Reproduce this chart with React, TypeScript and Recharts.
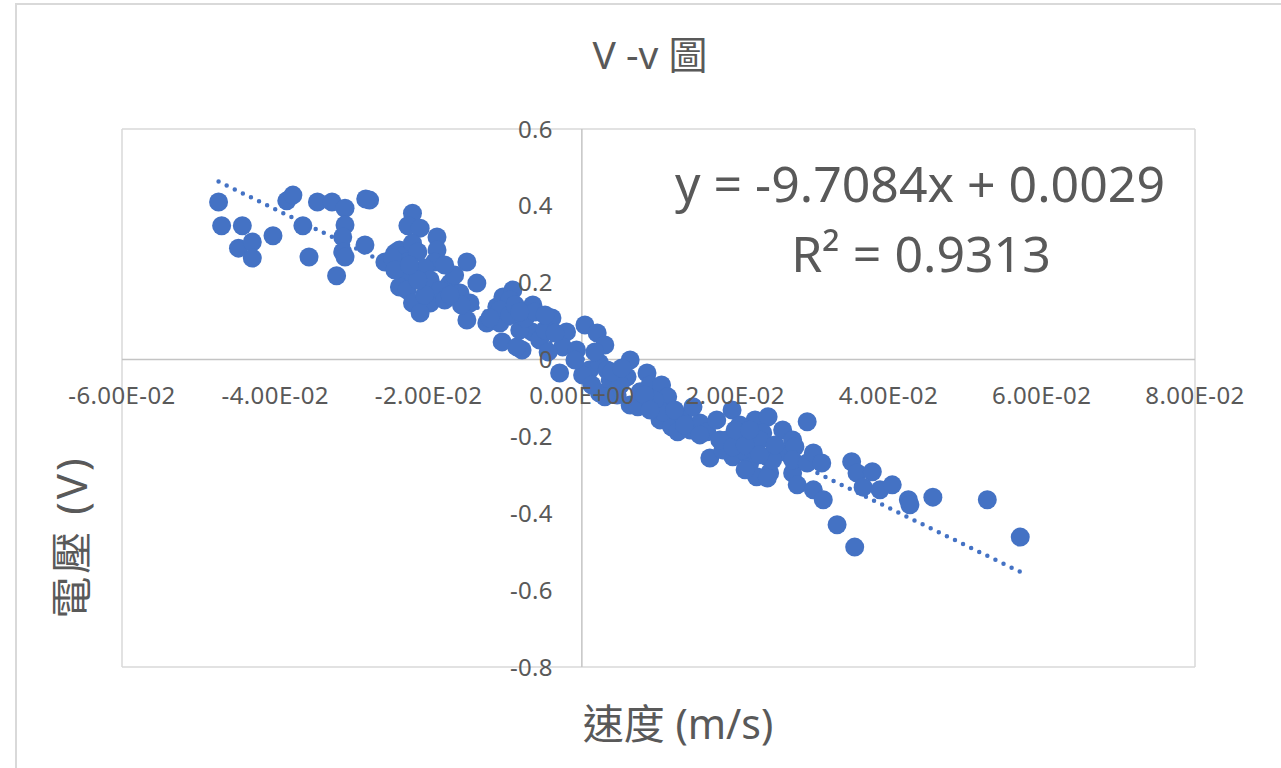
import React from 'react';
import { ScatterChart, Scatter, XAxis, YAxis, CartesianGrid, ReferenceLine } from 'recharts';

// 速度 (m/s)
const velocity = [
  -0.0474, -0.0470, -0.0443, -0.0448, -0.0430, -0.0430, -0.0403, -0.0385, -0.0377, -0.0364,
  -0.0356, -0.0345, -0.0326, -0.0309, -0.0309, -0.0312, -0.0312, -0.0309, -0.0320, -0.0283,
  -0.0277, -0.0282,
  -0.0257, -0.0244, -0.0238, -0.0232, -0.0228, -0.0221, -0.0227, -0.0211, -0.0189, -0.0221,
  -0.0214, -0.0247, -0.0228, -0.0238, -0.0228, -0.0221, -0.0198, -0.0211, -0.0189, -0.0192,
  -0.0205, -0.0198, -0.0172, -0.0159, -0.0137, -0.0150, -0.0146, -0.0150, -0.0166, -0.0185,
  -0.0179, -0.0157, -0.0205, -0.0214,
  -0.0124, -0.0107, -0.0111, -0.0103, -0.0090, -0.0094, -0.0107, -0.0064, -0.0104, -0.0078,
  -0.0085, -0.0039, -0.0065, -0.0055, -0.0081, -0.0094, -0.0074, -0.0048, -0.0020, 0.0004,
  0.0020, 0.0030, -0.0025, -0.0007, -0.0029, -0.0044, -0.0061, -0.0087,
  0.0010, 0.0023, 0.0033, 0.0023, 0.0001, 0.0013, 0.0037, 0.0063, 0.0059, 0.0046,
  0.0063, 0.0073, 0.0030, 0.0050, 0.0085, 0.0076, 0.0089, 0.0104, 0.0112, 0.0102,
  0.0117, 0.0125, 0.0141, 0.0154, 0.0163, 0.0176, 0.0196, 0.0106, 0.0132, 0.0145,
  0.0167, 0.0095, 0.0039, -0.0009, 0.0017, 0.0052, 0.0121, 0.0082,
  0.0189, 0.0206, 0.0215, 0.0226, 0.0243, 0.0236, 0.0262, 0.0275, 0.0197, 0.0219,
  0.0242, 0.0245, 0.0268, 0.0275, 0.0184, 0.0210, 0.0223, 0.0180, 0.0197, 0.0228,
  0.0242, 0.0249, 0.0278, 0.0294, 0.0275, 0.0294, 0.0302, 0.0313, 0.0281, 0.0302,
  0.0315, 0.0333, 0.0352, 0.0359, 0.0379, 0.0367, 0.0389, 0.0405, 0.0356, 0.0426,
  0.0428, 0.0458, 0.0529, 0.0572, 0.0213, 0.0232, 0.0206,
  0.0213, 0.0232, 0.0252, 0.0200, 0.0219, 0.0089, 0.0134, 0.0154,
  -0.0244, -0.0225, -0.0179, -0.0172, -0.0081, -0.0120, -0.0035, -0.0048,
];

// 電壓 (V)
const voltage = [
  0.410, 0.348, 0.348, 0.290, 0.306, 0.264, 0.322, 0.413, 0.428, 0.348,
  0.267, 0.410, 0.410, 0.394, 0.350, 0.319, 0.280, 0.267, 0.218, 0.298,
  0.415, 0.418,
  0.254, 0.277, 0.285, 0.270, 0.254, 0.381, 0.348, 0.342, 0.319, 0.303,
  0.280, 0.264, 0.225, 0.189, 0.181, 0.147, 0.147, 0.121, 0.285, 0.254,
  0.238, 0.207, 0.199, 0.173, 0.199, 0.254, 0.147, 0.103, 0.220, 0.181,
  0.155, 0.142, 0.168, 0.207,
  0.095, 0.095, 0.137, 0.163, 0.181, 0.155, 0.129, 0.142, 0.046, 0.025,
  0.033, 0.108, 0.072, 0.051, 0.077, 0.116, 0.108, 0.077, 0.072, 0.090,
  0.069, 0.038, 0.033, 0.025, -0.035, 0.020, 0.124, 0.142,
  -0.027, -0.009, -0.027, -0.087, -0.040, -0.066, -0.053, -0.001, -0.045, -0.092,
  -0.118, -0.123, -0.097, -0.066, -0.035, -0.084, -0.066, -0.066, -0.097, -0.157,
  -0.175, -0.188, -0.183, -0.165, -0.188, -0.157, -0.131, -0.136, -0.149, -0.123,
  -0.256, -0.105, -0.032, -0.001, 0.020, -0.022, -0.131, -0.092,
  -0.209, -0.209, -0.183, -0.157, -0.149, -0.191, -0.183, -0.209, -0.253, -0.269,
  -0.253, -0.295, -0.243, -0.295, -0.235, -0.235, -0.235, -0.209, -0.227, -0.305,
  -0.308, -0.261, -0.227, -0.162, -0.261, -0.269, -0.243, -0.269, -0.326, -0.339,
  -0.365, -0.430, -0.266, -0.295, -0.292, -0.332, -0.339, -0.326, -0.488, -0.365,
  -0.378, -0.358, -0.365, -0.462, -0.287, -0.209, -0.170,
  -0.222, -0.248, -0.222, -0.183, -0.183, -0.131, -0.170, -0.196,
  0.233, 0.246, 0.246, 0.168, 0.124, 0.108, 0.069, 0.116,
];

const xTicks = [-0.06, -0.04, -0.02, 0, 0.02, 0.04, 0.06, 0.08];
const yTicks = [0.6, 0.4, 0.2, 0, -0.2, -0.4, -0.6, -0.8];

const TREND_SLOPE = -9.7084;
const TREND_INTERCEPT = 0.0029;
const R_SQUARED = '0.9313';

const TITLE = 'V -v 圖';
const X_TITLE = '速度 (m/s)';
const Y_TITLE = '電壓 (V)';

const BLUE = '#4472C4';
const TEXT = '#595959';
const FONT = '"Noto Sans", "Noto Sans CJK TC", sans-serif';

const n = Math.min(velocity.length, voltage.length);
const points = velocity.slice(0, n).map((x, i) => ({ x, y: voltage[i] }));
const xMin = Math.min(...velocity);
const xMax = Math.max(...velocity);

const fmtX = (v: number) =>
  v
    .toExponential(2)
    .toUpperCase()
    .replace(/E([+-])(\d)$/, (_m: string, s: string, d: string) => 'E' + s + '0' + d);
const fmtY = (v: number) => String(Math.round(v * 10) / 10);

const xLabelData = xTicks.map((t) => ({ x: t, y: 0, label: fmtX(t) }));
const yLabelData = yTicks.map((t) => ({ x: 0, y: t, label: fmtY(t) }));

const Dot = (p: any) => <circle cx={p.cx} cy={p.cy} r={9.5} fill={BLUE} />;

const XLabel = (p: any) => (
  <text
    x={p.cx}
    y={p.cy + 44}
    textAnchor="middle"
    fontSize={24}
    letterSpacing={0.4}
    fill={TEXT}
    fontFamily={FONT}
  >
    {p.payload.label}
  </text>
);
const YLabel = (p: any) => (
  <text
    x={p.cx - 29}
    y={p.cy + 8.5}
    textAnchor="end"
    fontSize={24}
    letterSpacing={0.3}
    fill={TEXT}
    fontFamily={FONT}
  >
    {p.payload.label}
  </text>
);

export default function App() {
  return (
    <div
      style={{
        position: 'fixed',
        left: 0,
        top: 0,
        width: 1281,
        height: 768,
        overflow: 'hidden',
        background: '#fff',
      }}
    >
      <div
        style={{
          position: 'absolute',
          left: 15,
          top: 3,
          width: 1320,
          height: 820,
          border: '2px solid #d9d9d9',
          boxSizing: 'border-box',
        }}
      />
      <div style={{ position: 'absolute', left: 0, top: 0 }}>
        <ScatterChart width={1281} height={768} margin={{ top: 129, right: 86, bottom: 101, left: 122 }}>
          <CartesianGrid stroke="#d9d9d9" strokeWidth={1.5} />
          <XAxis
            type="number"
            dataKey="x"
            domain={[-0.06, 0.08]}
            ticks={xTicks}
            height={0}
            tick={false}
            axisLine={false}
            tickLine={false}
          />
          <YAxis
            type="number"
            dataKey="y"
            domain={[-0.8, 0.6]}
            ticks={yTicks}
            width={0}
            tick={false}
            axisLine={false}
            tickLine={false}
          />
          <ReferenceLine x={0} stroke="#c4c4c4" strokeWidth={1.5} />
          <ReferenceLine y={0} stroke="#c4c4c4" strokeWidth={1.5} />
          <Scatter data={points} shape={Dot} isAnimationActive={false} />
          <ReferenceLine
            segment={[
              { x: xMin, y: TREND_SLOPE * xMin + TREND_INTERCEPT },
              { x: xMax, y: TREND_SLOPE * xMax + TREND_INTERCEPT },
            ]}
            stroke={BLUE}
            strokeWidth={4.5}
            strokeDasharray="0 9"
            strokeLinecap="round"
          />
          <Scatter data={xLabelData} shape={XLabel} isAnimationActive={false} />
          <Scatter data={yLabelData} shape={YLabel} isAnimationActive={false} />
        </ScatterChart>
      </div>
      <svg
        width={1281}
        height={768}
        style={{ position: 'absolute', left: 0, top: 0, pointerEvents: 'none' }}
      >
        <text x={650} y={69} textAnchor="middle" fontSize={39} fill={TEXT} fontFamily={FONT}>
          {TITLE}
        </text>
        <text x={920} y={202} textAnchor="middle" fontSize={50} fill={TEXT} fontFamily={FONT}>
          {`y = ${TREND_SLOPE}x + ${TREND_INTERCEPT}`}
        </text>
        <text x={921} y={272} textAnchor="middle" fontSize={50} fill={TEXT} fontFamily={FONT}>
          {`R\u00B2 = ${R_SQUARED}`}
        </text>
        <text x={678} y={739} textAnchor="middle" fontSize={41} fill={TEXT} fontFamily={FONT}>
          {X_TITLE}
        </text>
        <text
          transform="translate(70,537) rotate(-90)"
          textAnchor="middle"
          dominantBaseline="central"
          fontSize={42}
          letterSpacing={3}
          fill={TEXT}
          fontFamily={FONT}
        >
          {Y_TITLE}
        </text>
      </svg>
    </div>
  );
}
